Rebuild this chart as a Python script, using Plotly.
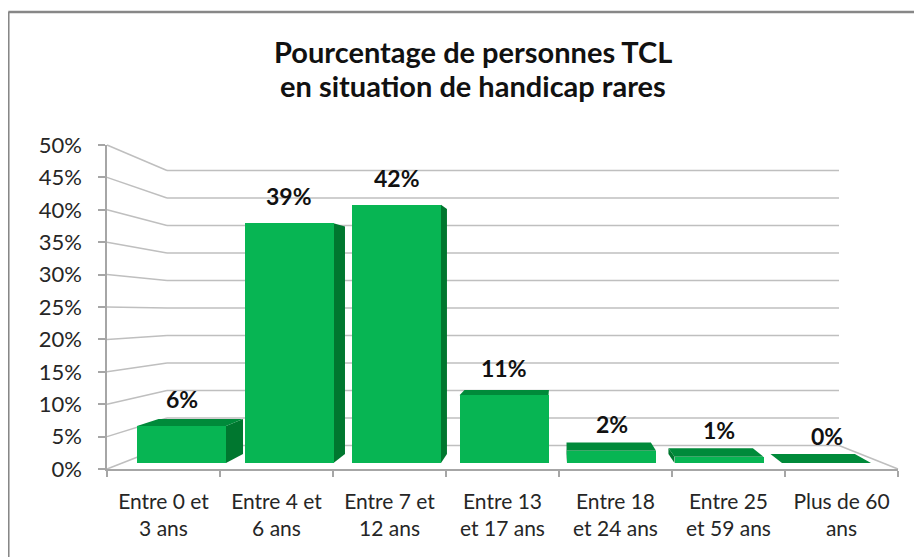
import plotly.graph_objects as go

# ---------------- data ----------------
categories = ["Entre 0 et<br>3 ans", "Entre 4 et<br>6 ans", "Entre 7 et<br>12 ans",
              "Entre 13<br>et 17 ans", "Entre 18<br>et 24 ans", "Entre 25<br>et 59 ans",
              "Plus de 60<br>ans"]
values = [6, 39, 42, 11, 2, 1, 0]
y_ticks = [0, 5, 10, 15, 20, 25, 30, 35, 40, 45, 50]
title_lines = ["Pourcentage de personnes TCL", "en situation de handicap rares"]

# ---------------- geometry / style ----------------
OFF = 8                      # page body margin
W, H = 922 - OFF, 557 - OFF
FONT = "Lato"
FRONT = "#07B553"
SIDE = "#00772F"
TOP = "#008A3A"
GRID = "#BFBFBF"

BAR_STEP = 107.5
X0 = 181.5 - OFF
FLOOR_PY = 463 - OFF
PX_PER_PCT = 6.15
BAR_W_PX = 89
VX, VY, K = 557 - OFF, 290 - OFF, 0.0514

FRONT_X, FRONT_Y0, FRONT_PX = 107 - OFF, 469 - OFF, 6.48
BACK_X, BACK_Y0, BACK_PX = 167 - OFF, 445.5 - OFF, 5.5
BACK_RIGHT_X = 839 - OFF
FLOOR_RIGHT_X = 898 - OFF

XR = [-X0 / BAR_STEP, (W - X0) / BAR_STEP]
YR = [(FLOOR_PY - H) / PX_PER_PCT, FLOOR_PY / PX_PER_PCT]


def dxv(px):
    return XR[0] + px / BAR_STEP


def dyv(py):
    return (FLOOR_PY - py) / PX_PER_PCT


def pxx(x):
    return (x - XR[0]) * BAR_STEP


def pyy(v):
    return FLOOR_PY - v * PX_PER_PCT


def back(p):
    return (p[0] + (VX - p[0]) * K, p[1] + (VY - p[1]) * K)


def path(points):
    pts = [f"{dxv(px):.5f},{dyv(py):.5f}" for px, py in points]
    return "M " + " L ".join(pts) + " Z"


shapes = []

for t in y_ticks:
    yf = FRONT_Y0 - FRONT_PX * t
    yb = BACK_Y0 - BACK_PX * t
    for (a, b) in [((FRONT_X, yf), (BACK_X, yb)), ((BACK_X, yb), (BACK_RIGHT_X, yb))]:
        shapes.append(dict(type="line", xref="x", yref="y",
                           x0=dxv(a[0]), y0=dyv(a[1]), x1=dxv(b[0]), y1=dyv(b[1]),
                           line=dict(color=GRID, width=1.5), layer="below"))
shapes.append(dict(type="line", xref="x", yref="y",
                   x0=dxv(FLOOR_RIGHT_X), y0=dyv(FRONT_Y0),
                   x1=dxv(BACK_RIGHT_X), y1=dyv(BACK_Y0),
                   line=dict(color=GRID, width=1.5), layer="below"))

bar_w = BAR_W_PX / BAR_STEP
for i, v in enumerate(values):
    L = pxx(i - bar_w / 2)
    R = pxx(i + bar_w / 2)
    T = pyy(v)
    B = pyy(0)
    bRT, bRB, bLT, bLB = back((R, T)), back((R, B)), back((L, T)), back((L, B))
    if bRT[0] > R + 0.5:
        shapes.append(dict(type="path", xref="x", yref="y",
                           path=path([(R, T), (R, B), bRB, bRT]),
                           fillcolor=SIDE, line=dict(width=0), layer="below"))
    if bLT[0] < L - 0.5:
        shapes.append(dict(type="path", xref="x", yref="y",
                           path=path([(L, T), (L, B), bLB, bLT]),
                           fillcolor=SIDE, line=dict(width=0), layer="below"))
    if bRT[1] < T:
        shapes.append(dict(type="path", xref="x", yref="y",
                           path=path([(L, T), (R, T), bRT, bLT]),
                           fillcolor=TOP, line=dict(width=0), layer="below"))

# chart border (left and top)
bx, by = 0.3 / W, 1 - (12 - OFF) / H
shapes.append(dict(type="line", xref="paper", yref="paper", x0=bx, y0=by, x1=bx, y1=0,
                   line=dict(color="#878787", width=2.5)))
shapes.append(dict(type="line", xref="paper", yref="paper", x0=bx, y0=by, x1=1, y1=by,
                   line=dict(color="#878787", width=2.5)))

fig = go.Figure()
fig.add_trace(go.Bar(x=list(range(len(values))), y=values, width=bar_w,
                     marker=dict(color=FRONT, line=dict(width=0)),
                     showlegend=False, hovertext=[c.replace("<br>", " ") for c in categories],
                     hoverinfo="text+y"))
fig.add_trace(go.Scatter(x=[0], y=[0], xaxis="x2", yaxis="y2", mode="markers",
                         marker=dict(opacity=0), showlegend=False, hoverinfo="skip"))

annotations = []
for i, v in enumerate(values):
    annotations.append(dict(x=i, y=v, xref="x", yref="y", text=f"<b>{v}%</b>",
                            showarrow=False, yshift=27, yanchor="middle",
                            font=dict(family=FONT, size=23, color="#111111")))
for line, cy in zip(title_lines, [52, 86]):
    annotations.append(dict(x=(473 - OFF) / W, y=1 - (cy - OFF) / H, xref="paper", yref="paper",
                            text=f"<b>{line}</b>", showarrow=False,
                            xanchor="center", yanchor="middle",
                            font=dict(family=FONT, size=29, color="#111111")))

x2_dom = [FRONT_X / W, FLOOR_RIGHT_X / W]
y2_dom = [(H - FRONT_Y0) / H, (H - (FRONT_Y0 - FRONT_PX * 50)) / H]
n = len(categories)

fig.update_layout(
    width=W, height=H, autosize=False,
    margin=dict(l=0, r=0, t=0, b=0, pad=0, autoexpand=False),
    showlegend=False,
    paper_bgcolor="white", plot_bgcolor="rgba(0,0,0,0)",
    shapes=shapes, annotations=annotations,
    xaxis=dict(range=XR, visible=False, domain=[0, 1], fixedrange=True, automargin=False),
    yaxis=dict(range=YR, visible=False, domain=[0, 1], fixedrange=True, automargin=False),
    xaxis2=dict(domain=x2_dom, anchor="y2", range=[-0.5, n - 0.5], automargin=False,
                tickvals=list(range(n)), ticktext=categories, ticks="",
                minor=dict(tickvals=[k - 0.5 for k in range(n + 1)], ticks="outside",
                           ticklen=6, tickcolor="#A6A6A6", tickwidth=1.5, showgrid=False),
                showline=True, linecolor="#A6A6A6", linewidth=1.5, showgrid=False,
                zeroline=False, ticklabelstandoff=13, fixedrange=True,
                tickfont=dict(family=FONT, size=21, color="#262626")),
    yaxis2=dict(domain=y2_dom, anchor="x2", range=[0, 50], tickvals=y_ticks, automargin=False,
                ticktext=[f"{t}%" for t in y_ticks], ticks="outside", ticklen=7,
                tickcolor="#A6A6A6", tickwidth=1.5, showline=True, linecolor="#A6A6A6",
                linewidth=1.5, showgrid=False, zeroline=False, ticklabelstandoff=12,
                fixedrange=True,
                tickfont=dict(family=FONT, size=22, color="#262626")),
    bargap=0,
)

fig.write_html("out.html")
